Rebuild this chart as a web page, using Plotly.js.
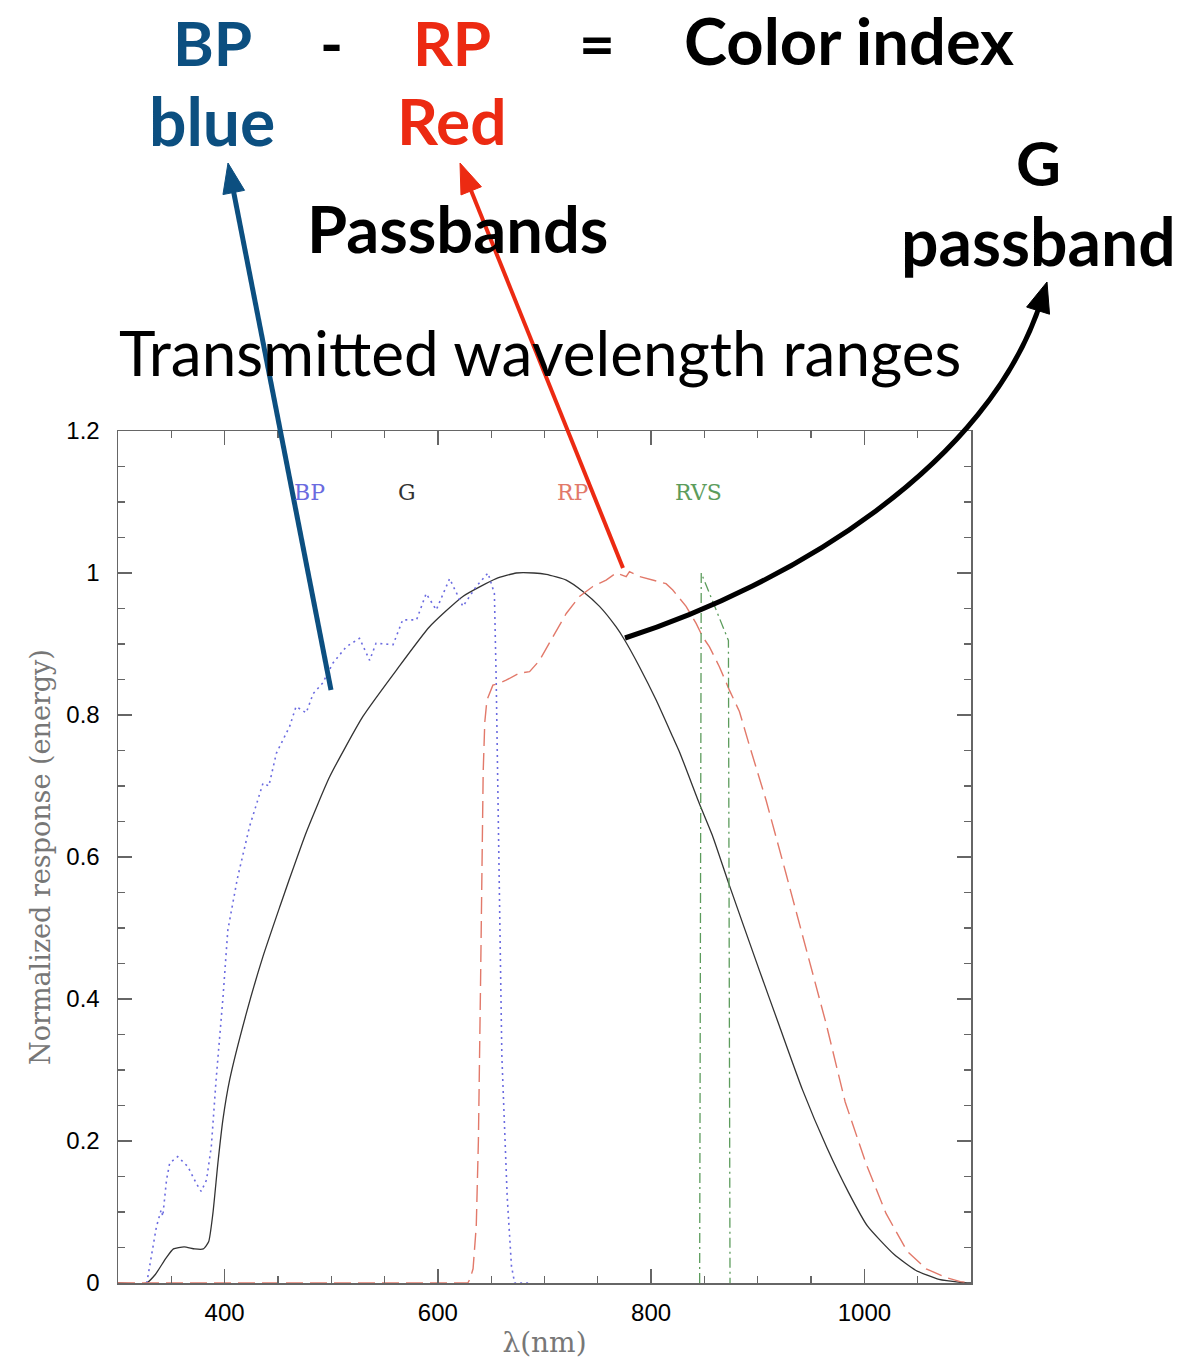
<!DOCTYPE html>
<html>
<head>
<meta charset="utf-8">
<script src="https://cdn.plot.ly/plotly-3.0.1.min.js"></script>
<style>html,body{margin:0;padding:0;background:#fff;}#chart{width:1185px;height:1359px;}</style>
</head>
<body>
<div id="chart"></div>
<script>
// ---- Data (wavelength in nm, normalized response) ----
const wlG = [300, 326.6, 335, 345, 352, 362, 372, 380, 385, 389, 393.7, 398.4, 404.7, 420.4, 436, 452, 461, 476.6, 498.5, 529.7, 561, 592, 623.4, 654.7, 673.5, 690, 701.6, 720.4, 736, 751.6, 767.2, 775, 789, 804.7, 820.3, 826.6, 845.3, 857.8, 873.4, 901.6, 920.3, 942, 965, 985, 1003, 1028, 1048, 1070, 1090, 1100];
const gResp = [0, 0, 0.012, 0.035, 0.048, 0.051, 0.048, 0.048, 0.058, 0.098, 0.169, 0.23, 0.286, 0.38, 0.46, 0.531, 0.57, 0.635, 0.713, 0.798, 0.863, 0.924, 0.967, 0.992, 1.0, 1.0, 0.998, 0.99, 0.974, 0.953, 0.924, 0.906, 0.868, 0.821, 0.769, 0.748, 0.675, 0.629, 0.56, 0.44, 0.362, 0.272, 0.19, 0.128, 0.08, 0.04, 0.018, 0.005, 0.001, 0];

const wlBP = [327, 331, 336, 340.5, 342, 345.5, 348.5, 356, 365.5, 373.5, 378, 383, 387.5, 392, 398.5, 403, 412, 423.4, 436, 441.5, 448.5, 461, 467, 476.5, 483, 492, 501.5, 514, 526.5, 536, 542, 558, 567, 580, 589, 598.5, 611, 623.5, 636, 647, 653, 654.7, 657, 660, 665, 669, 672, 685];
const bpResp = [0, 0.037, 0.079, 0.103, 0.094, 0.145, 0.169, 0.178, 0.164, 0.14, 0.129, 0.145, 0.192, 0.286, 0.403, 0.497, 0.57, 0.643, 0.704, 0.70, 0.746, 0.784, 0.812, 0.803, 0.83, 0.845, 0.873, 0.896, 0.908, 0.877, 0.901, 0.899, 0.934, 0.934, 0.971, 0.948, 0.992, 0.953, 0.981, 1.0, 0.971, 0.849, 0.6, 0.32, 0.122, 0.024, 0, 0];

const wlRP = [300, 628, 630, 633, 636, 638, 640, 641.5, 642.5, 644, 646, 651.6, 658, 664, 676.6, 686, 695.4, 707.8, 720.4, 732.8, 745.3, 757.8, 767.2, 776.6, 779.7, 789, 801.6, 814, 820.3, 832.8, 842.2, 848.4, 854.7, 864, 873.4, 882.8, 892.2, 907.8, 926.6, 945.3, 964, 982, 1001.6, 1020.3, 1040, 1058, 1076, 1090, 1100];
const rpResp = [0, 0, 0.005, 0.02, 0.08, 0.2, 0.42, 0.6, 0.72, 0.79, 0.821, 0.842, 0.845, 0.849, 0.859, 0.861, 0.877, 0.91, 0.943, 0.967, 0.981, 0.99, 1.0, 0.995, 1.002, 0.995, 0.99, 0.985, 0.976, 0.953, 0.929, 0.91, 0.896, 0.868, 0.835, 0.805, 0.757, 0.68, 0.576, 0.471, 0.366, 0.255, 0.168, 0.098, 0.045, 0.02, 0.008, 0.002, 0];

const wlRVS = [845.5, 846.3, 847, 872.5, 873.3, 874];
const rvsResp = [0, 0.5, 1.0, 0.905, 0.5, 0];

const bandNames = ["BP", "G", "RP", "RVS"];
const bandLabelX = [480, 571, 727, 844];
const bandLabelY = 1.114;
const xTicks = [400, 600, 800, 1000];

// ---- Layout geometry (pixels of the 1185x1359 page) ----
const W = 1185, H = 1359;
const M = {l: 118, r: 214, t: 431, b: 76};
const PW = W - M.l - M.r, PH = H - M.t - M.b;
const X = px => (px - M.l) / PW;
const Y = py => (H - M.b - py) / PH;
const P = (px, py) => X(px).toFixed(5) + ',' + Y(py).toFixed(5);

function arrowShapes(tail, tip, width, color, headLen, headW, c1, c2) {
  const from = c2 ? c2 : tail;
  let dx = tip[0] - from[0], dy = tip[1] - from[1];
  const L = Math.hypot(dx, dy); dx /= L; dy /= L;
  const base = [tip[0] - dx * headLen, tip[1] - dy * headLen];
  const nx = -dy, ny = dx;
  const b1 = [base[0] + nx * headW / 2, base[1] + ny * headW / 2];
  const b2 = [base[0] - nx * headW / 2, base[1] - ny * headW / 2];
  const end = [tip[0] - dx * headLen * 0.6, tip[1] - dy * headLen * 0.6];
  let linePath;
  if (c1) {
    linePath = 'M' + P(tail[0], tail[1]) + ' C' + P(c1[0], c1[1]) + ' ' + P(c2[0], c2[1]) + ' ' + P(end[0], end[1]);
  } else {
    linePath = 'M' + P(tail[0], tail[1]) + ' L' + P(end[0], end[1]);
  }
  return [
    {type: 'path', xref: 'paper', yref: 'paper', path: linePath, line: {color: color, width: width}, layer: 'above'},
    {type: 'path', xref: 'paper', yref: 'paper', path: 'M' + P(tip[0], tip[1]) + ' L' + P(b1[0], b1[1]) + ' L' + P(b2[0], b2[1]) + ' Z',
     fillcolor: color, line: {color: color, width: 1}, layer: 'above'}
  ];
}

const BLUE = '#0c4f80', RED = '#ec2a12';
const shapes = [].concat(
  arrowShapes([331, 690], [228, 163], 5, BLUE, 30, 22),
  arrowShapes([623, 568], [460, 163], 4, RED, 30, 22),
  arrowShapes([625, 638], [1047, 282], 5, '#000', 30, 24, [790, 585], [990, 465])
);

const TF = 'Lato, "Open Sans", sans-serif';
function label(text, cx, baseline, size, color, weight) {
  return {text: text, xref: 'paper', yref: 'paper', x: X(cx), y: Y(baseline + 0.22 * size + 2),
          xanchor: 'center', yanchor: 'bottom', showarrow: false,
          font: {family: TF, size: size, color: color, weight: weight}};
}
const annotations = [
  label('BP', 212, 65, 62, BLUE, 700),
  label('-', 331, 65, 62, '#000', 700),
  label('RP', 452, 65, 62, RED, 700),
  label('=', 597, 65, 62, '#000', 700),
  label('Color index', 849, 65, 65, '#000', 700),
  label('blue', 212, 145, 66, BLUE, 700),
  label('Red', 452, 145, 64, RED, 700),
  label('G', 1038, 185, 62, '#000', 700),
  label('Passbands', 457, 253, 65, '#000', 700),
  label('passband', 1038, 265, 66, '#000', 700),
  label('Transmitted wavelength ranges', 540, 375, 62, '#000', 400)
];
const bandColors = ['#6b6be0', '#333333', '#e2796a', '#5c9c5c'];
bandNames.forEach((n, i) => annotations.push({
  text: n, xref: 'x', yref: 'y', x: bandLabelX[i], y: bandLabelY, showarrow: false,
  xanchor: 'center', yanchor: 'middle',
  font: {family: '"DejaVu Serif", serif', size: 22, color: bandColors[i]}
}));

const traces = [
  {x: wlG, y: gResp, type: 'scatter', mode: 'lines', name: 'G', line: {color: '#333333', width: 1.3, shape: 'spline', smoothing: 0.5}},
  {x: wlBP, y: bpResp, type: 'scatter', mode: 'lines', name: 'BP', line: {color: '#6b6be0', width: 1.6, dash: '2px,4px'}},
  {x: wlRP, y: rpResp, type: 'scatter', mode: 'lines', name: 'RP', line: {color: '#e2796a', width: 1.4, dash: '17px,7px'}},
  {x: wlRVS, y: rvsResp, type: 'scatter', mode: 'lines', name: 'RVS', line: {color: '#5c9c5c', width: 1.3, dash: '10px,4px,2px,4px'}}
];

const axisCommon = {
  showline: true, linecolor: '#666', linewidth: 1.5, mirror: 'allticks',
  ticks: 'inside', tickcolor: '#666', tickwidth: 1.3, ticklen: 14,
  showgrid: false, zeroline: false,
  tickfont: {family: '"Liberation Sans", Arial, sans-serif', size: 24, color: '#000'}
};
const layout = {
  width: W, height: H, margin: M, paper_bgcolor: '#fff', plot_bgcolor: '#fff', showlegend: false,
  xaxis: Object.assign({}, axisCommon, {
    range: [300, 1100], tickvals: xTicks, ticktext: xTicks.map(String), ticklabelstandoff: 8,
    minor: {dtick: 50, tick0: 0, ticks: 'inside', ticklen: 7, tickcolor: '#666', tickwidth: 1.2},
    title: {text: 'λ(nm)', font: {family: '"DejaVu Serif", serif', size: 28, color: '#777'}, standoff: 12}
  }),
  yaxis: Object.assign({}, axisCommon, {
    range: [0, 1.2], dtick: 0.2, tick0: 0, ticklabelstandoff: 12,
    minor: {dtick: 0.05, tick0: 0, ticks: 'inside', ticklen: 7, tickcolor: '#666', tickwidth: 1.2},
    title: {text: 'Normalized response (energy)', font: {family: '"DejaVu Serif", serif', size: 27, color: '#777'}, standoff: 8}
  }),
  shapes: shapes,
  annotations: annotations
};
Plotly.newPlot('chart', traces, layout, {staticPlot: true});
</script>
</body>
</html>
